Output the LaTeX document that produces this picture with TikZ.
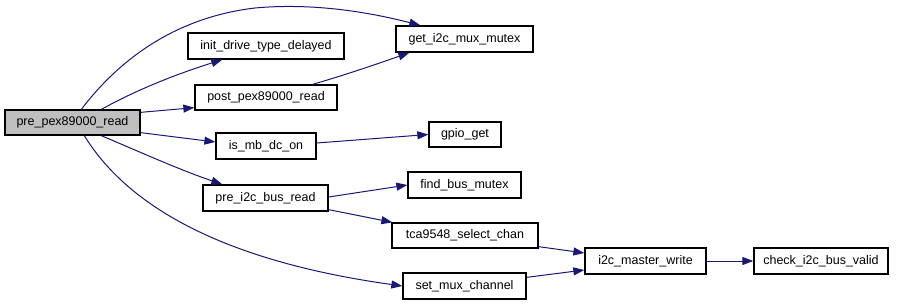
\documentclass[tikz,border=0pt]{standalone}
\usepackage{fontspec}
\setmainfont{Liberation Sans}
\usetikzlibrary{arrows.meta,calc}
\definecolor{edgeblue}{HTML}{191970}
\definecolor{rootgray}{HTML}{BFBFBF}
\begin{document}
\begin{tikzpicture}[x=1pt,y=-1pt,
  fn/.style={draw=black,line width=1.3pt,fill=white,inner sep=0pt,
    minimum height=26pt,font=\fontsize{12.5}{14}\selectfont},
  rootfn/.style={fn,fill=rootgray},
  call/.style={draw=edgeblue,line width=1pt,
    -{Triangle[length=11pt,width=8pt]},edgeblue}]
\useasboundingbox (0,0) rectangle (903,305);

% functions
\node[rootfn,minimum width=135pt,minimum height=25pt] (root) at (72.5,122.5) {pre\_pex89000\_read};
\node[fn,minimum width=156pt] (init) at (266,46) {init\_drive\_type\_delayed};
\node[fn,minimum width=137pt] (mux) at (464.5,39) {get\_i2c\_mux\_mutex};
\node[fn,minimum width=142pt,minimum height=25pt] (post) at (266,97.5) {post\_pex89000\_read};
\node[fn,minimum width=100pt] (ismb) at (266,146) {is\_mb\_dc\_on};
\node[fn,minimum width=72pt,minimum height=25pt] (gpio) at (465,134.5) {gpio\_get};
\node[fn,minimum width=125pt] (prei2c) at (265.5,198) {pre\_i2c\_bus\_read};
\node[fn,minimum width=113pt] (find) at (464.5,185) {find\_bus\_mutex};
\node[fn,minimum width=146pt,minimum height=25pt] (tca) at (465,235.5) {tca9548\_select\_chan};
\node[fn,minimum width=123pt] (setmux) at (464.5,286) {set\_mux\_channel};
\node[fn,minimum width=121pt] (i2cw) at (645.5,261) {i2c\_master\_write};
\node[fn,minimum width=134pt] (check) at (821,261) {check\_i2c\_bus\_valid};

% calls
\draw[call] ($(root.north west)+(77,0)$) .. controls (115,65) and (170,18) .. (255,8)
  .. controls (320,2) and (380,15) .. ($(mux.north west)+(25,0)$);
\draw[call] ($(root.north west)+(97,0)$) .. controls (140,88) and (180,73) .. ($(init.south west)+(35,0)$);
\draw[call] ($(root.north east)+(0,3)$) -- ($(post.south west)+(0,-3)$);
\draw[call] ($(post.north east)+(-25,0)$) .. controls (345,75) and (380,63) .. ($(mux.south west)+(14,0)$);
\draw[call] ($(root.south east)+(0,-3)$) -- ($(ismb.west)+(0,-4)$);
\draw[call] ($(ismb.east)+(0,-3)$) -- (gpio.west);
\draw[call] ($(root.south west)+(97,0)$) .. controls (140,152) and (180,170) .. ($(prei2c.north west)+(20,0)$);
\draw[call] ($(prei2c.east)+(0,-1)$) -- (find.west);
\draw[call] ($(prei2c.south east)+(0,-2)$) -- ($(tca.north west)+(1,0)$);
\draw[call] ($(root.south west)+(80,0)$) .. controls (130,210) and (230,262) .. (setmux.west);
\draw[call] ($(tca.south east)+(0,-2)$) -- ($(i2cw.west)+(0,-8)$);
\draw[call] ($(setmux.north east)+(0,5)$) -- ($(i2cw.west)+(0,9)$);
\draw[call] (i2cw.east) -- (check.west);
\end{tikzpicture}
\end{document}
